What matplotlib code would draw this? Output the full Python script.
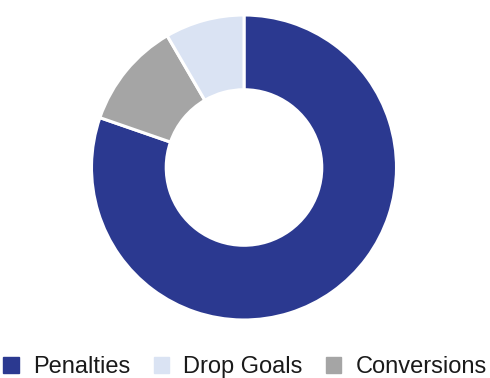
import matplotlib.pyplot as plt
import matplotlib.patches as mpatches

plt.rcParams['font.family'] = ['Liberation Sans', 'DejaVu Sans']

# slices in drawing order (clockwise from 12 o'clock)
slices = ["Penalties", "Conversions", "Drop Goals"]
values = [80.3, 11.3, 8.4]
colors = {"Penalties": "#2B3990", "Drop Goals": "#DAE3F3", "Conversions": "#A5A5A5"}
legend_order = ["Penalties", "Drop Goals", "Conversions"]

fig = plt.figure(figsize=(4.9, 3.78), dpi=100)
W, H = 490, 378
cx, cy, r = 244, 167.5, 152.5
ax = fig.add_axes([(cx - r) / W, (H - cy - r) / H, 2 * r / W, 2 * r / H])

ax.pie(values, colors=[colors[s] for s in slices], startangle=90, counterclock=False,
       radius=1, wedgeprops=dict(width=0.49, edgecolor='white', linewidth=2.2))
ax.set_xlim(-1, 1)
ax.set_ylim(-1, 1)
ax.set_aspect('equal')
ax.axis('off')

handles = [mpatches.Patch(color=colors[s], label=s) for s in legend_order]
fig.legend(handles=handles, loc='center', bbox_to_anchor=(0.5, 1 - 367 / H), ncol=3,
           frameon=False, fontsize=17, handlelength=0.65, handleheight=0.65,
           handletextpad=0.6, columnspacing=1.0, labelcolor='#1a1a1a')

fig.savefig("out.png", dpi=100)
